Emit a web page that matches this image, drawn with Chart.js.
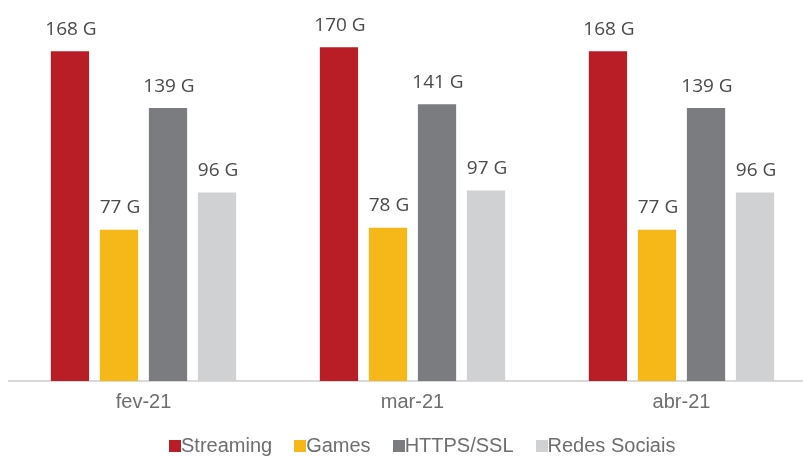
<!DOCTYPE html>
<html>
<head>
<meta charset="utf-8">
<script src="https://cdn.jsdelivr.net/npm/chart.js@4"></script>
<style>
  html, body { margin: 0; padding: 0; background: #fff; }
  #wrap { position: relative; width: 803px; height: 456px; overflow: hidden; }
  #legend {
    position: absolute; left: 169px; top: 434px;
    display: flex; gap: 22px;
    font-family: "Liberation Sans", Arial, sans-serif; font-size: 20px; color: #6e6e6e;
    white-space: nowrap;
  }
  #legend .box { display: inline-block; width: 12px; height: 12px; }
</style>
</head>
<body>
<div id="wrap">
  <canvas id="barChart" width="816" height="456"></canvas>
  <div id="legend"></div>
</div>
<script>
var months = ['fev-21', 'mar-21', 'abr-21'];

var streaming = [168, 170, 168];
var games = [77, 78, 77];
var https = [139, 141, 139];
var redes = [96, 97, 96];

var seriesNames = ['Streaming', 'Games', 'HTTPS/SSL', 'Redes Sociais'];
var seriesColors = ['#b91e26', '#f6b718', '#7b7c80', '#d0d1d3'];

var datasets = [streaming, games, https, redes].map(function (values, i) {
    return {
        label: seriesNames[i],
        data: values,
        backgroundColor: seriesColors[i],
        categoryPercentage: 0.729,
        barPercentage: 0.78,
    };
});

// value labels above each bar ("168 G")
var valueLabels = {
    id: 'valueLabels',
    afterDatasetsDraw: function (chart) {
        var ctx = chart.ctx;
        ctx.save();
        ctx.font = '19px "Open Sans", sans-serif';
        ctx.fillStyle = '#4a4a4a';
        ctx.textAlign = 'center';
        ctx.textBaseline = 'middle';
        chart.data.datasets.forEach(function (ds, i) {
            chart.getDatasetMeta(i).data.forEach(function (bar, j) {
                ctx.fillText(ds.data[j] + ' G', bar.x + 1, bar.y - 22);
            });
        });
        ctx.restore();
    }
};

var config = {
    type: 'bar',
    data: { labels: months, datasets: datasets },
    options: {
        responsive: false,
        animation: false,
        layout: { padding: { left: 9, right: 0, top: 8, bottom: 0 } },
        plugins: { legend: { display: false }, tooltip: { enabled: false } },
        scales: {
            x: {
                grid: { display: false, drawTicks: false },
                border: { color: '#d9d9d9', width: 2 },
                ticks: {
                    color: '#6e6e6e',
                    padding: 9,
                    font: { family: '"Liberation Sans", Arial, sans-serif', size: 20 }
                },
                afterFit: function (scale) { scale.height = 75; }
            },
            y: {
                display: false,
                min: 0,
                max: 190
            }
        }
    },
    plugins: [valueLabels]
};

var barChart = new Chart(document.getElementById('barChart'), config);

// legend row under the chart
var legend = document.getElementById('legend');
barChart.data.datasets.forEach(function (ds) {
    var item = document.createElement('span');
    item.innerHTML = '<span class="box" style="background:' + ds.backgroundColor + '"></span>' + ds.label;
    legend.appendChild(item);
});
</script>
</body>
</html>
